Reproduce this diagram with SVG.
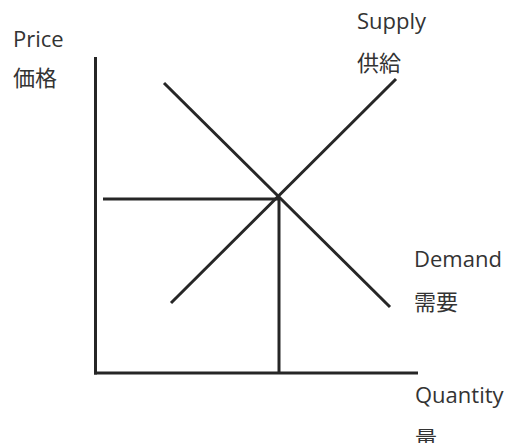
<svg xmlns="http://www.w3.org/2000/svg" width="510" height="443" viewBox="0 0 510 443">
<style>
.ln{stroke:#262626;stroke-width:3;fill:none;stroke-linecap:butt}
.t{font-family:"Open Sans","Noto Sans CJK JP",sans-serif;font-size:22px;fill:#333}
.c{font-family:"Noto Sans CJK JP",sans-serif;font-size:22px;fill:#333}
</style>
<rect width="510" height="443" fill="#fff"/>
<g id="connectors">
<line class="ln" x1="95.5" y1="57" x2="95.5" y2="374.5"/>
<line class="ln" x1="94" y1="373" x2="418" y2="373"/>
<line class="ln" x1="171" y1="303" x2="396" y2="79"/>
<line class="ln" x1="164" y1="83" x2="390" y2="307"/>
<line class="ln" x1="103" y1="199" x2="279" y2="199"/>
<line class="ln" x1="279" y1="197" x2="279" y2="373"/>
</g>
<g id="price"><text class="t" x="13" y="47">Price</text><text class="c" x="13" y="86">価格</text></g>
<g id="supply"><text class="t" x="357" y="29">Supply</text><text class="c" x="357" y="71">供給</text></g>
<g id="demand"><text class="t" x="414" y="267">Demand</text><text class="c" x="414" y="310">需要</text></g>
<g id="quantity"><text class="t" x="415" y="403">Quantity</text><text class="c" x="415" y="447">量</text></g>
</svg>
